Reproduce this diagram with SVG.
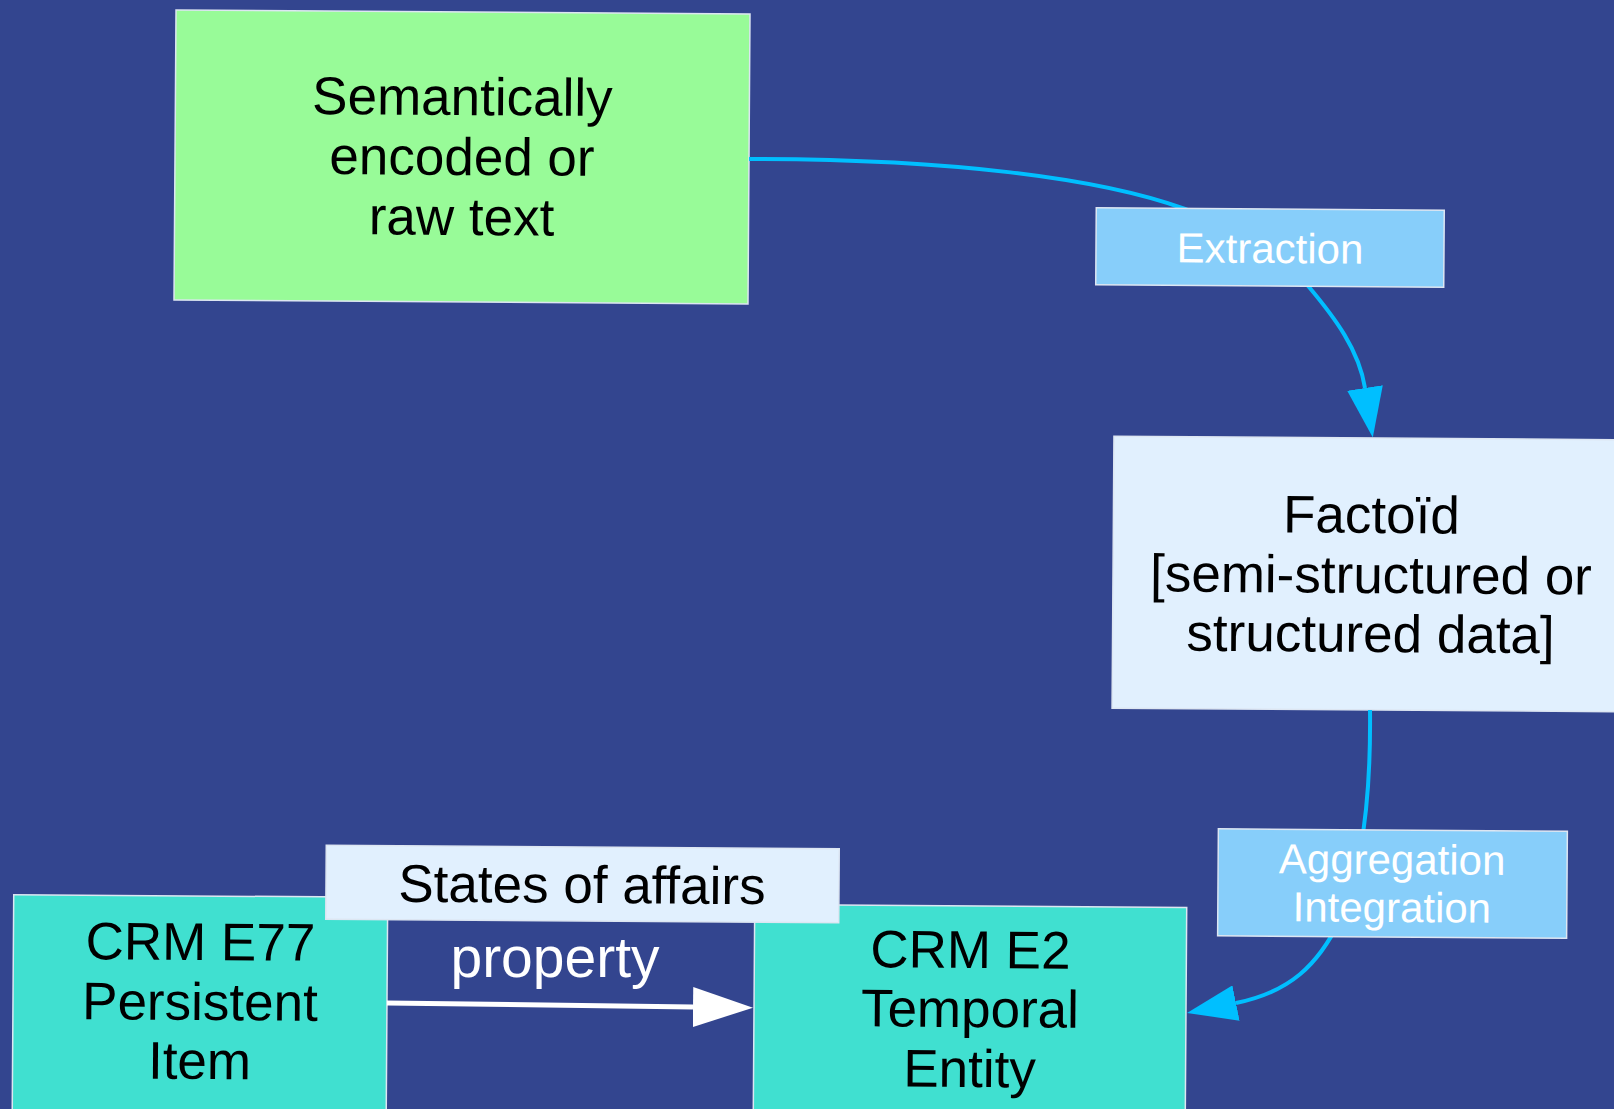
<svg xmlns="http://www.w3.org/2000/svg" width="1614" height="1109" viewBox="0 0 1614 1109">
<style>
.box{stroke:#dde6f2;stroke-width:1.5}
.t{font-family:"Liberation Sans",Arial,sans-serif;text-anchor:middle}
.main{font-size:53px;fill:#000}
.lbl{font-size:42px;fill:#fff}
.blue{fill:none;stroke:#00BFFF;stroke-width:4}
.white{fill:none;stroke:#fff;stroke-width:5}
</style>
<defs>
<marker id="ab" viewBox="0 0 50 36" refX="0" refY="18" markerWidth="50" markerHeight="36" markerUnits="userSpaceOnUse" orient="auto"><path d="M0,0 L50,18 L0,36 z" fill="#00BFFF"/></marker>
<marker id="aw" viewBox="0 0 60 40" refX="0" refY="20" markerWidth="60" markerHeight="40" markerUnits="userSpaceOnUse" orient="auto"><path d="M0,0 L60,20 L0,40 z" fill="#fff"/></marker>
</defs>
<rect width="1614" height="1109" fill="#33458F"/>
<g id="node-text" transform="rotate(0.4 461 157)">
<rect class="box" x="175" y="12" width="574" height="290" fill="#98FB98"/>
<text class="t main"><tspan x="462" y="115">Semantically</tspan><tspan x="462" y="175">encoded or</tspan><tspan x="462" y="235">raw text</tspan></text>
</g>
<g id="node-factoid" transform="rotate(0.4 1371 574)">
<rect class="box" x="1113" y="438" width="520" height="272" fill="#E1F0FE"/>
<text class="t main"><tspan x="1371" y="533">Factoïd</tspan><tspan x="1371" y="593">[semi-structured or</tspan><tspan x="1371" y="652">structured data]</tspan></text>
</g>
<g id="node-e77" transform="rotate(0.4 200 1000)">
<rect class="box" x="13" y="896" width="374" height="220" fill="#40E0D0"/>
<text class="t main"><tspan x="200" y="960">CRM E77</tspan><tspan x="200" y="1020">Persistent</tspan><tspan x="200" y="1079">Item</tspan></text>
</g>
<g id="node-e2" transform="rotate(0.4 970 1010)">
<rect class="box" x="754" y="906" width="432" height="215" fill="#40E0D0"/>
<text class="t main"><tspan x="970" y="968">CRM E2</tspan><tspan x="970" y="1027">Temporal</tspan><tspan x="970" y="1087">Entity</tspan></text>
</g>
<g id="connectors">
<path class="blue" d="M749,159 C950,159 1100,178 1185,209 C1240,230 1280,255 1309,287 C1335,318 1359,350 1365,388" marker-end="url(#ab)"/>
<path class="blue" d="M1370,710 C1371,800 1362,870 1340,920 C1318,965 1290,992 1236,1003" marker-end="url(#ab)"/>
<path class="white" d="M387,1003 L693,1007" marker-end="url(#aw)"/>
</g>
<g id="label-extraction" transform="rotate(0.4 1270 247)">
<rect class="box" x="1096" y="209" width="348" height="77" fill="#87CEFA"/>
<text class="t lbl" x="1270" y="263">Extraction</text>
</g>
<g id="label-aggregation" transform="rotate(0.4 1392 883)">
<rect class="box" x="1218" y="830" width="349" height="107" fill="#87CEFA"/>
<text class="t lbl"><tspan x="1392" y="874">Aggregation</tspan><tspan x="1392" y="922">Integration</tspan></text>
</g>
<g id="node-states" transform="rotate(0.4 582 884)">
<rect class="box" x="326" y="847" width="513" height="74" fill="#E1F0FE"/>
<text class="t main" x="582" y="903">States of affairs</text>
</g>
<g id="label-property">
<text class="t" x="555" y="977" font-size="57" fill="#fff">property</text>
</g>
</svg>
